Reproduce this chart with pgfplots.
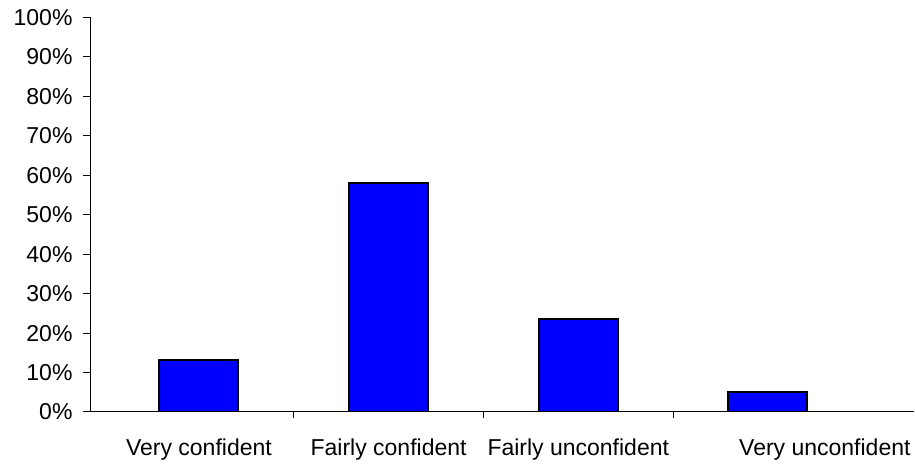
\documentclass[border=0pt]{standalone}
\usepackage{pgfplots}
\pgfplotsset{compat=1.18}
\usepackage{fontspec}
\setmainfont{Liberation Sans}
\begin{document}
\begin{tikzpicture}
\useasboundingbox (-91pt,-56pt) rectangle (824pt,412pt);
\begin{axis}[
  at={(0,0)}, anchor=south west,
  scale only axis, width=823pt, height=394.5pt,
  axis lines*=left,
  axis line style={line width=1pt},
  xmin=-0.569, xmax=3.77,
  ymin=0, ymax=100,
  ytick={0,10,...,100},
  yticklabels={0\%,10\%,20\%,30\%,40\%,50\%,60\%,70\%,80\%,90\%,100\%},
  xtick={0,1,2,3.3},
  xticklabels={Very confident,Fairly confident,Fairly unconfident,Very unconfident},
  minor xtick={0.5,1.5,2.5},
  major x tick style={draw=none},
  tick align=outside,
  major tick length=8pt,
  minor tick length=6pt,
  tick style={black, line width=1pt},
  ticklabel style={font=\fontsize{23}{26}\selectfont},
  xticklabel style={yshift=-15pt},
  yticklabel style={xshift=-7pt},
  ybar, bar width=79pt,
]
\addplot[fill={rgb,255:red,0;green,0;blue,255}, draw=black, line width=2pt]
  coordinates {(0,13.2) (1,58.1) (2,23.6) (3,5.0)};
\end{axis}
\end{tikzpicture}
\end{document}
